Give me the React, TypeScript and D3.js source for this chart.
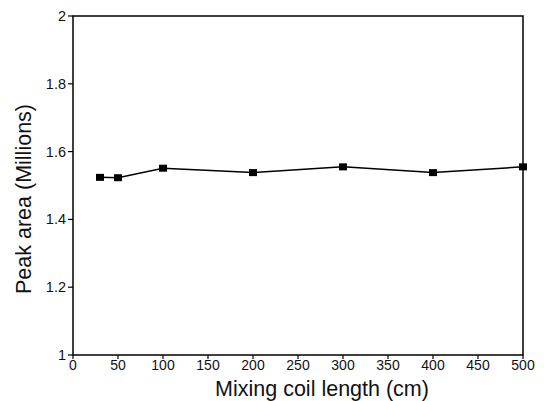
import React from "react";
import * as d3 from "d3";

const lengths = [30, 50, 100, 200, 300, 400, 500];
const peakAreas = [1.524, 1.523, 1.551, 1.538, 1.555, 1.538, 1.555];
const xTicks = [0, 50, 100, 150, 200, 250, 300, 350, 400, 450, 500];
const yTicks = [1, 1.2, 1.4, 1.6, 1.8, 2];
const yTickLabels = ["1", "1.2", "1.4", "1.6", "1.8", "2"];

export default function App() {
  const W = 544, H = 401;
  const left = 73, right = 523, top = 16, bottom = 355;
  const x = d3.scaleLinear().domain([0, 500]).range([left, right]);
  const y = d3.scaleLinear().domain([1, 2]).range([bottom, top]);
  const line = d3.line<number>().x((_, i) => x(lengths[i])).y((d) => y(d));
  const font = "'Liberation Sans', Arial, sans-serif";
  return (
    <svg width={W} height={H} style={{ position: "absolute", left: 0, top: 0, background: "#fff" }} fontFamily={font}>
      <rect x={left} y={top} width={right - left} height={bottom - top} fill="none" stroke="#000" strokeWidth={1.5} />
      {yTicks.map((t, i) => (
        <g key={"y" + i}>
          <line x1={left - 5} x2={left} y1={y(t)} y2={y(t)} stroke="#000" strokeWidth={1.2} />
          <text x={left - 7} y={y(t)} dy="0.35em" textAnchor="end" fontSize={14.5} fill="#111">{yTickLabels[i]}</text>
        </g>
      ))}
      {xTicks.map((t, i) => (
        <g key={"x" + i}>
          <line x1={x(t)} x2={x(t)} y1={bottom} y2={bottom + 4} stroke="#000" strokeWidth={1.2} />
          <text x={x(t)} y={370} textAnchor="middle" fontSize={14} fill="#111">{t}</text>
        </g>
      ))}
      <path d={line(peakAreas) || ""} fill="none" stroke="#000" strokeWidth={1.5} />
      {peakAreas.map((v, i) => (
        <rect key={"m" + i} x={x(lengths[i]) - 4} y={y(v) - 3.5} width={8} height={7} fill="#000" />
      ))}
      <text x={322} y={396} textAnchor="middle" fontSize={21.5} fill="#111">Mixing coil length (cm)</text>
      <text transform={`translate(31,199) rotate(-90)`} textAnchor="middle" fontSize={21.5} fill="#111">Peak area (Millions)</text>
    </svg>
  );
}
